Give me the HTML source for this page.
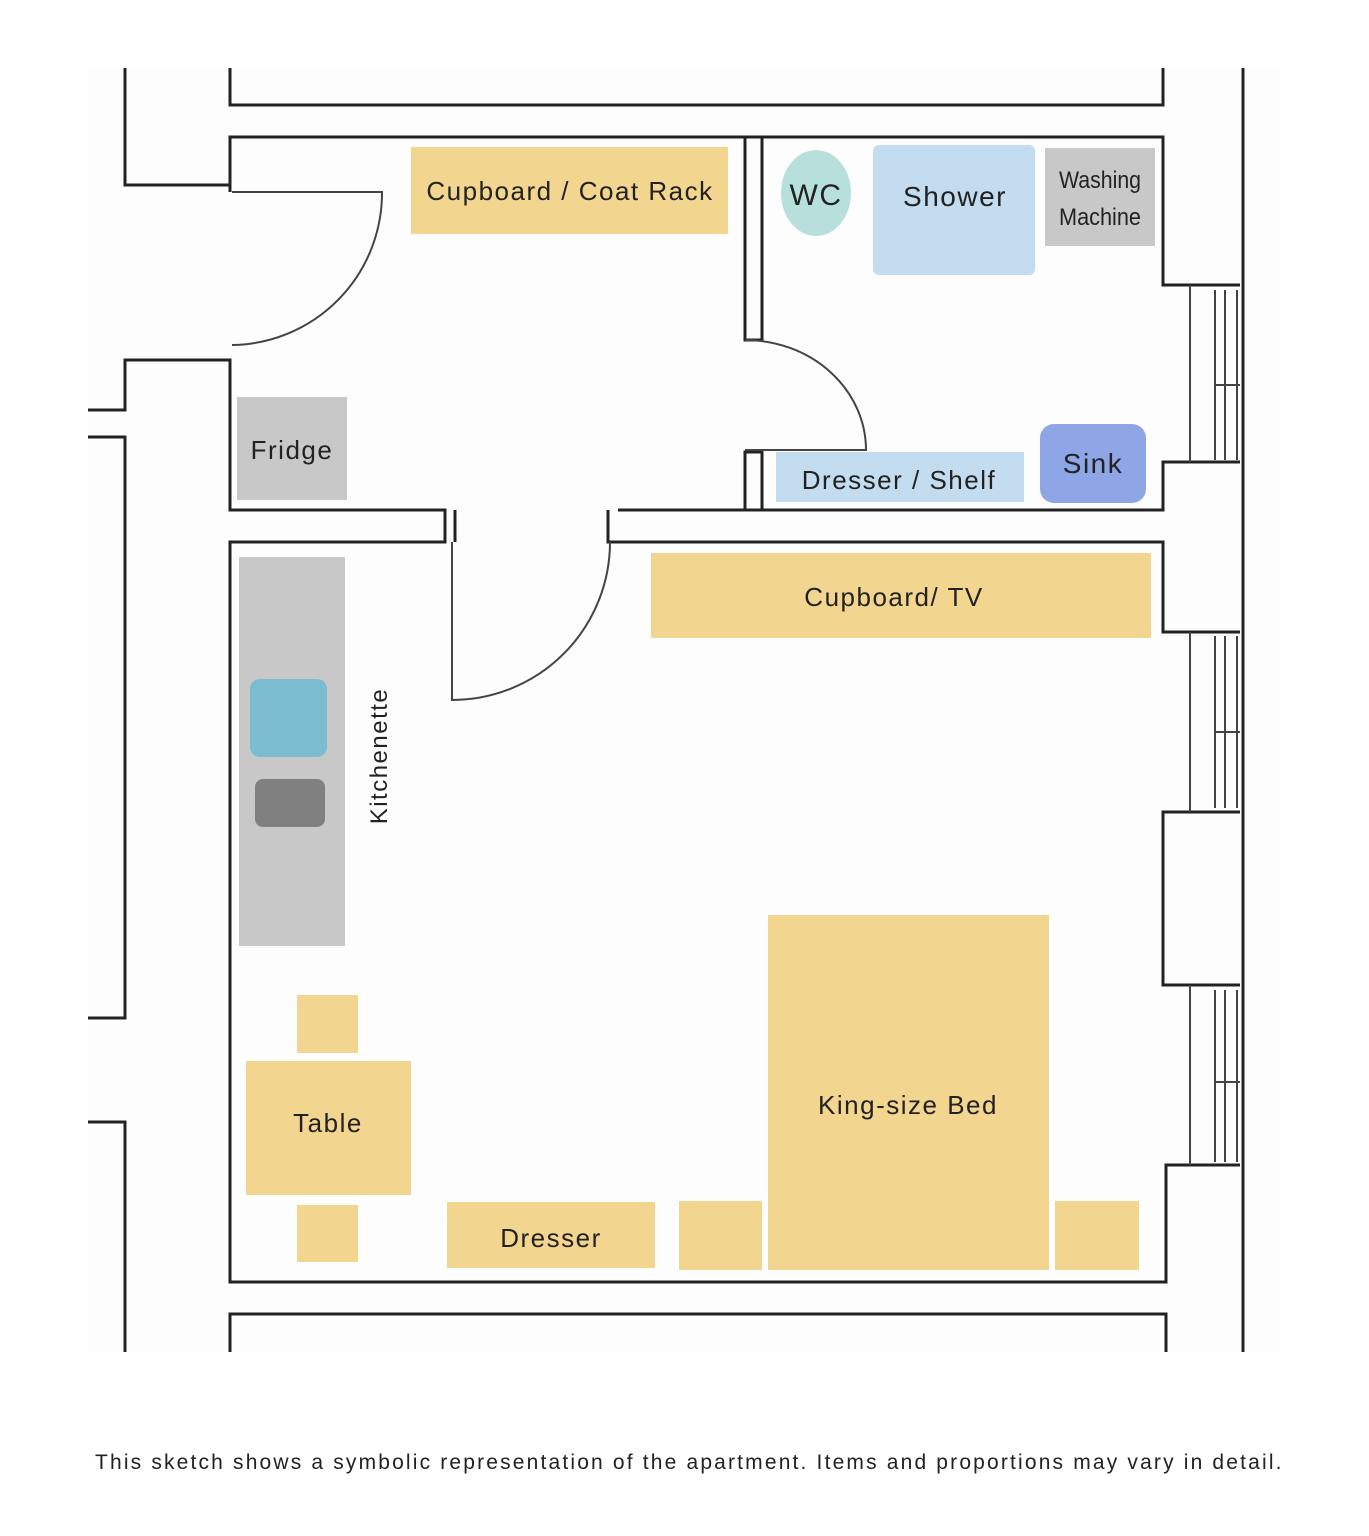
<!DOCTYPE html>
<html><head><style>
body{margin:0;background:#fff;}
svg{display:block}
text{font-family:"Liberation Sans",sans-serif;fill:#222;letter-spacing:1.5px}
</style></head><body>
<svg width="1369" height="1536" viewBox="0 0 1369 1536" xmlns="http://www.w3.org/2000/svg">
<rect width="1369" height="1536" fill="#fff"/>
<rect x="88" y="68" width="1192" height="1284" fill="#fdfdfd"/>
<g fill="#f2d68f">
<rect x="411" y="147" width="317" height="87"/>
<rect x="651" y="553" width="500" height="85"/>
<rect x="297" y="995" width="61" height="58"/>
<rect x="246" y="1061" width="165" height="134"/>
<rect x="297" y="1205" width="61" height="57"/>
<rect x="447" y="1202" width="208" height="66"/>
<rect x="679" y="1201" width="83" height="69"/>
<rect x="768" y="915" width="281" height="355"/>
<rect x="1055" y="1201" width="84" height="69"/>
</g>
<ellipse cx="816" cy="193" rx="35" ry="43" fill="#b7e0dc"/>
<rect x="873" y="145" width="162" height="130" rx="6" fill="#c4dcef"/>
<rect x="1045" y="148" width="110" height="98" fill="#c8c8c8"/>
<rect x="237" y="397" width="110" height="103" fill="#c8c8c8"/>
<rect x="776" y="452" width="248" height="50" fill="#c4dcef"/>
<rect x="1040" y="424" width="106" height="79" rx="14" fill="#8fa6e6"/>
<rect x="239" y="557" width="106" height="389" fill="#c8c8c8"/>
<rect x="250" y="679" width="77" height="78" rx="10" fill="#7bbcd0"/>
<rect x="255" y="779" width="70" height="48" rx="8" fill="#808080"/>
<g fill="none" stroke="#222" stroke-width="3">
<path d="M125 68V185H230"/>
<path d="M230 68V105H1163V68"/>
<path d="M230 192V137H1163V285H1240"/>
<path d="M88 410H125V360H230V510H445V542H230V1282H1166V1165H1240"/>
<path d="M88 437H125V1018H88"/>
<path d="M88 1122H125V1352"/>
<path d="M230 1352V1314H1166V1352"/>
<path d="M455 510V542"/>
<path d="M618 510H1163V462H1240"/>
<path d="M608 510V542H1163V632H1240"/>
<path d="M1240 812H1163V985H1240"/>
<path d="M1243 68V1352"/>
<path d="M745 137V340H762V137"/>
<path d="M745 510V452H762V510"/>
</g>
<g fill="none" stroke="#444" stroke-width="2">
<path d="M232 192H382A152 152 0 0 1 232 345"/>
<path d="M452 542V700A158 158 0 0 0 610 542"/>
<path d="M745 340A121 110 0 0 1 866 450H745"/>
<path d="M1190 285V462M1215 290V460M1225 290V460M1237 290V460M1215 385H1240"/>
<path d="M1190 632V812M1215 636V808M1225 636V808M1237 636V808M1215 732H1240"/>
<path d="M1190 985V1165M1215 990V1162M1225 990V1162M1237 990V1162M1215 1082H1240"/>
</g>
<g font-size="26" text-anchor="middle">
<text x="570" y="200">Cupboard / Coat Rack</text>
<text x="816" y="205" font-size="30">WC</text>
<text x="955" y="206" font-size="28">Shower</text>
<text x="1100" y="188" font-size="24" style="letter-spacing:0" textLength="82" lengthAdjust="spacingAndGlyphs">Washing</text>
<text x="1100" y="225" font-size="24" style="letter-spacing:0" textLength="82" lengthAdjust="spacingAndGlyphs">Machine</text>
<text x="292" y="459">Fridge</text>
<text x="899" y="489">Dresser / Shelf</text>
<text x="1093" y="473" font-size="28">Sink</text>
<text x="894" y="606">Cupboard/ TV</text>
<text x="328" y="1132">Table</text>
<text x="551" y="1247">Dresser</text>
<text x="908" y="1114">King-size Bed</text>
<text transform="translate(387,756) rotate(-90)" font-size="24">Kitchenette</text>
<text x="689" y="1469" font-size="21" textLength="1188" lengthAdjust="spacing">This sketch shows a symbolic representation of the apartment. Items and proportions may vary in detail.</text>
</g>
</svg>
</body></html>
